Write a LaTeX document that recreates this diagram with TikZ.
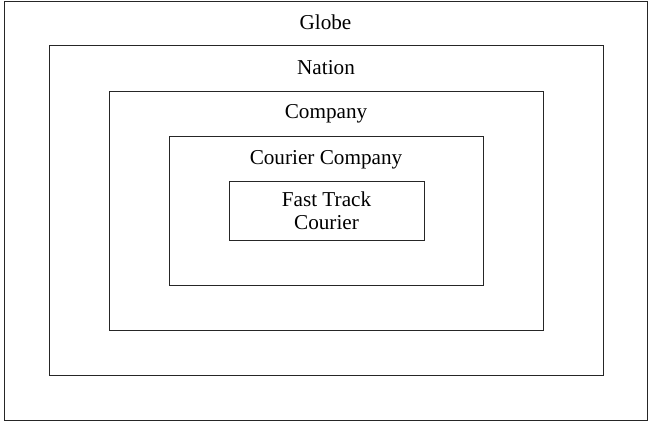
\documentclass[tikz,border=0pt]{standalone}
\usepackage{fontspec}
\setmainfont{Liberation Serif}
\usetikzlibrary{positioning}

\begin{document}
\begin{tikzpicture}[
  x=1pt,y=-1pt,
  font=\fontsize{21.2}{23}\selectfont,
  level/.style={draw=black!85,line width=0.9pt,inner sep=0pt},
  lbl/.style={anchor=base,inner sep=0pt,align=center}]
\useasboundingbox (0,0) rectangle (648,421);
\node[level,minimum width=643pt,minimum height=419pt] (globe) at (325.5,210.5) {};
\node[level,minimum width=554pt,minimum height=330pt] (nation) at (326,210) {};
\node[level,minimum width=434pt,minimum height=239pt] (company) at (326,210.5) {};
\node[level,minimum width=314pt,minimum height=149pt] (courierco) at (326,210.5) {};
\node[level,minimum width=195pt,minimum height=59pt,align=center] (fasttrack) at (326.5,210.5)
  {Fast Track\\Courier};
\node[lbl] (globeText) at ([yshift=-28.5pt]globe.north) {Globe};
\node[lbl] (nationText) at ([yshift=-29.5pt]nation.north) {Nation};
\node[lbl] (companyText) at ([yshift=-27.5pt]company.north) {Company};
\node[lbl] (courierText) at ([yshift=-28.5pt]courierco.north) {Courier Company};
\end{tikzpicture}
\end{document}
